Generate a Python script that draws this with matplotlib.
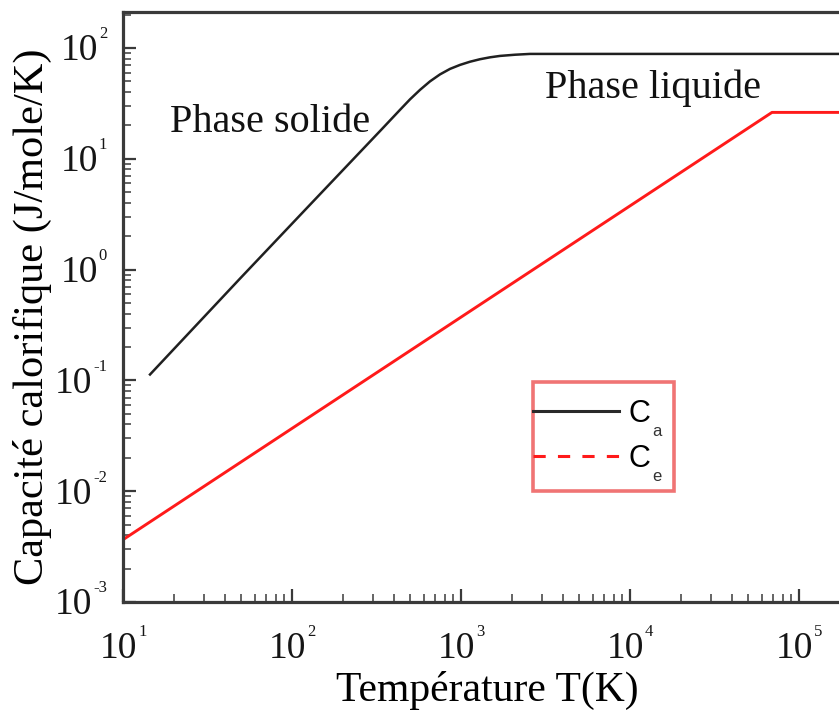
import matplotlib
matplotlib.use('Agg')
import matplotlib.pyplot as plt
from matplotlib.ticker import LogLocator, NullFormatter
from matplotlib.lines import Line2D
from matplotlib.legend_handler import HandlerLine2D
from matplotlib.font_manager import FontProperties
from matplotlib.transforms import IdentityTransform

# ---------------- data ----------------
T_a = [14.45, 49.2, 122, 340, 435.6, 499.2, 572.0, 655.3, 751.1, 860.8, 986.5,
       1130.5, 1295.5, 1484.6, 1701.3, 2086.7, 2560, 2.0e5]
C_a = [0.113, 0.828, 3.57, 18.5, 27.63, 34.36, 41.84, 49.91, 57.71, 64.69, 70.29,
       75.10, 79.10, 82.29, 84.72, 86.85, 88.32, 88.32]
T_e = [10, 6.92e4, 2.0e5]
C_e = [3.65e-3, 26.2, 26.2]

x_decades = [1, 2, 3, 4, 5]
y_decades = [-3, -2, -1, 0, 1, 2]

xlabel = 'Température T(K)'
ylabel = 'Capacité calorifique (J/mole/K)'
legend_main = ['C', 'C']
legend_sub = ['a', 'e']
phase_solid = 'Phase solide'
phase_liquid = 'Phase liquide'

serif = 'Liberation Serif'
sans = 'Liberation Sans'
plt.rcParams['font.family'] = [serif, 'DejaVu Serif']

W, H = 839, 711
fig = plt.figure(figsize=(W / 100, H / 100), dpi=100)
ax = fig.add_axes([123 / W, 109 / H, 716 / W, 590 / H])
ax.set_xscale('log')
ax.set_yscale('log')
ax.set_xlim(10, 10 ** (1 + 716 / 169))
ax.set_ylim(1e-3, 10 ** (2 + 36 / 111))

ax.plot(T_a, C_a, color='#202020', lw=1.8, solid_joinstyle='round')
ax.plot(T_e, C_e, color='#ff1a1a', lw=2.1)

spine_col = '#3a3a3a'
for s in ['left', 'bottom', 'top']:
    ax.spines[s].set_color(spine_col)
    ax.spines[s].set_linewidth(2.3)
ax.spines['right'].set_visible(False)

ax.xaxis.set_major_locator(LogLocator(base=10, numticks=20))
ax.yaxis.set_major_locator(LogLocator(base=10, numticks=20))
ax.xaxis.set_minor_locator(LogLocator(base=10, subs=range(2, 10), numticks=50))
ax.yaxis.set_minor_locator(LogLocator(base=10, subs=range(2, 10), numticks=50))
ax.xaxis.set_minor_formatter(NullFormatter())
ax.yaxis.set_minor_formatter(NullFormatter())
ax.tick_params(which='major', direction='in', length=9.5, width=1.6, color=spine_col,
               top=False, right=False, labelleft=False, labelbottom=False)
ax.tick_params(which='minor', direction='in', length=5.5, width=1.1, color=spine_col,
               top=False, right=False)

# annotations
ax.text((170 - 123) / 716, (602 - 132) / 590, phase_solid, transform=ax.transAxes,
        fontsize=29, family=serif, va='baseline', ha='left', color='#111111')
ax.text((545 - 123) / 716, (602 - 98) / 590, phase_liquid, transform=ax.transAxes,
        fontsize=29, family=serif, va='baseline', ha='left', color='#111111')

# legend
bpad = 0.55
handles = [Line2D([], [], color='#2a2a2a', lw=2.2),
           Line2D([], [], color='#ff1a1a', lw=2.2, ls=(0, (4, 4)))]
leg = ax.legend(handles, legend_main, loc='upper left',
                bbox_to_anchor=((533 - 123) / 716, (602 - 495) / 590,
                                (674 - 533) / 716, (495 - 382) / 590),
                mode='expand', borderaxespad=0, borderpad=bpad,
                handlelength=2.25, handletextpad=0.33, labelspacing=0.5,
                prop=FontProperties(family=sans, size=22), fancybox=False,
                framealpha=1, edgecolor='#f07474',
                handler_map={Line2D: HandlerLine2D(xpad=-bpad)})
leg.get_frame().set_linewidth(2.6)

# axis labels
fig.text(487, H - 701, xlabel, transform=IdentityTransform(), ha='center',
         va='baseline', fontsize=30, family=serif)
fig.text(43, H - 317, ylabel, transform=IdentityTransform(), ha='center',
         va='baseline', rotation=90, rotation_mode='anchor', fontsize=30.5, family=serif)

# tick labels: "10" with small exponent
fig.canvas.draw()
r = fig.canvas.get_renderer()
fp10 = FontProperties(family=serif, size=27)
fpexp = FontProperties(family=serif, size=12)


def tw(s, fp):
    w, h, d = r.get_text_width_height_descent(s, fp, ismath=False)
    return w


w10 = tw('10', fp10)
for k in y_decades:
    _, yd = ax.transData.transform((10, 10.0 ** k))
    e = str(k)
    we = tw(e, fpexp)
    xr = 107
    base = yd - 12.5
    fig.text(xr, base + 22, e, transform=IdentityTransform(), ha='right',
             va='baseline', fontproperties=fpexp, color='#151515')
    fig.text(xr - we - 1, base, '10', transform=IdentityTransform(), ha='right',
             va='baseline', fontproperties=fp10, color='#151515')

for k in x_decades:
    xd, _ = ax.transData.transform((10.0 ** k, 1e-3))
    e = str(k)
    we = tw(e, fpexp)
    left = xd - (w10 + we + 1) / 2
    base = H - 658
    fig.text(left, base, '10', transform=IdentityTransform(), ha='left',
             va='baseline', fontproperties=fp10, color='#151515')
    fig.text(left + w10 + 1, base + 22, e, transform=IdentityTransform(), ha='left',
             va='baseline', fontproperties=fpexp, color='#151515')

# legend subscripts
fpl = FontProperties(family=sans, size=22)
fps = FontProperties(family=sans, size=12)
_, _, dC = r.get_text_width_height_descent('C', fpl, ismath=False)
for txt, sub in zip(leg.get_texts(), legend_sub):
    bb = txt.get_window_extent(r)
    baseline = bb.y0 + dC
    fig.text(bb.x1 + 2, baseline + 5, sub, transform=IdentityTransform(), ha='left',
             va='top', fontproperties=fps, color='#333333')

fig.savefig('out.png', dpi=100)
